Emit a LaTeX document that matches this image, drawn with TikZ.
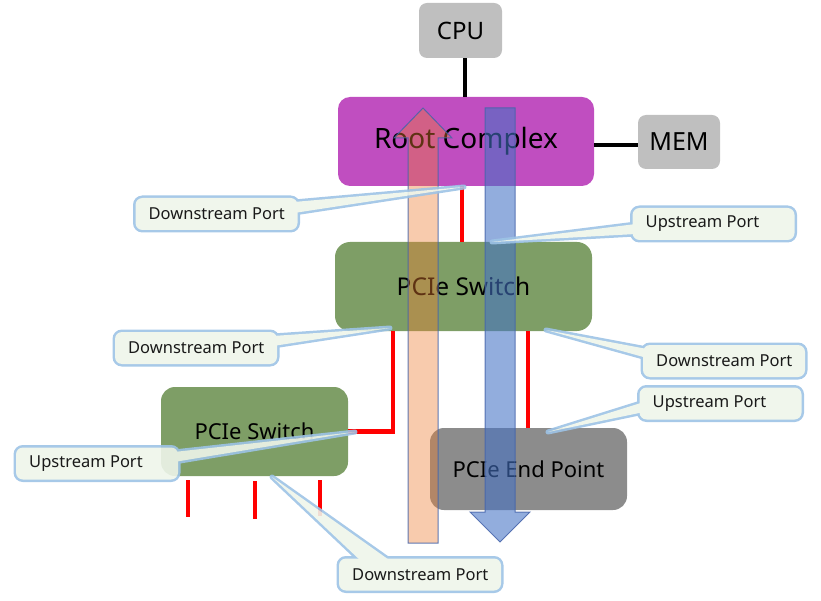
\documentclass[tikz,border=0pt]{standalone}
\usepackage{fontspec}
\setmainfont{Noto Sans}
\usetikzlibrary{calc}
\definecolor{boxgray}{RGB}{191,191,191}
\definecolor{rcmag}{RGB}{192,78,192}
\definecolor{swgreen}{RGB}{126,158,102}
\definecolor{epgray}{RGB}{140,140,140}
\definecolor{cofill}{RGB}{238,245,234}
\definecolor{coborder}{RGB}{157,195,230}
\definecolor{upfill}{RGB}{237,125,49}
\definecolor{downfill}{RGB}{68,114,196}
\definecolor{arrowline}{RGB}{68,100,170}
\definecolor{linered}{RGB}{255,0,0}

\newcommand\mkcallout[6]{%
 \coordinate (#1-c) at (#2);
 \coordinate (#1-t) at (#4);
 \begin{scope}[transparency group, opacity=0.9]
  \draw[coborder, line width=5pt, line join=round] (#5) -- (#1-t) -- (#6) -- cycle;
  \draw[coborder, line width=5pt, rounded corners=7pt] ($(#1-c)+(-81,-16)$) rectangle ($(#1-c)+(81,16)$);
  \fill[cofill] (#5) -- (#1-t) -- (#6) -- cycle;
  \fill[cofill, rounded corners=7pt] ($(#1-c)+(-81,-16)$) rectangle ($(#1-c)+(81,16)$);
 \end{scope}
 \node[cotext, anchor=west] (#1) at ($(#1-c)+(-68,0)$) {#3};
}

\begin{document}
\begin{tikzpicture}[x=1pt,y=-1pt,
  blk/.style={inner sep=0pt, align=center, text=black},
  cotext/.style={inner sep=0pt, font=\fontsize{16.5}{18}\selectfont, text=black!90},
  redline/.style={linered, line width=4.5pt},
  blackline/.style={black, line width=4pt},
  bigarrow/.style={draw=arrowline, line width=1pt, draw opacity=0.85}
]
\useasboundingbox (0,0) rectangle (821,601);

% boxes
\node[blk, fill=boxgray, rounded corners=8pt, minimum width=83pt, minimum height=55pt,
      font=\fontsize{24}{28}\selectfont] (cpu) at (460.5,30.5) {CPU};
\node[blk, fill=boxgray, rounded corners=8pt, minimum width=82pt, minimum height=54pt,
      font=\fontsize{25}{28}\selectfont] (mem) at (679,142) {MEM};
\node[blk, fill=rcmag, rounded corners=12pt, minimum width=256pt, minimum height=89pt,
      font=\fontsize{28}{32}\selectfont] (rc) at (466,141.5) {Root Complex};
\node[blk, fill=swgreen, rounded corners=15pt, minimum width=257pt, minimum height=89pt,
      font=\fontsize{24.5}{28}\selectfont] (sw1) at (463.5,286.5) {PCIe Switch};
\node[blk, fill=swgreen, rounded corners=14pt, minimum width=187pt, minimum height=89pt,
      font=\fontsize{22}{26}\selectfont] (sw2) at (254.5,431.5) {PCIe Switch};
\node[blk, fill=epgray, rounded corners=14pt, minimum width=197pt, minimum height=82pt,
      font=\fontsize{22}{26}\selectfont] (ep) at (528.5,469) {PCIe End Point};

% connectors
\draw[blackline] (465,0 |- cpu.south) -- (465,0 |- rc.north);
\draw[blackline] (rc.east |- 0,145) -- (mem.west |- 0,145);
\draw[redline] (462,0 |- rc.south) -- (462,0 |- sw1.north);
\draw[redline] (393,0 |- sw1.south) |- (sw2.east);
\draw[redline] (528,0 |- sw1.south) -- (528,0 |- ep.north);
\coordinate (s1) at (188,517);
\coordinate (s2) at (255,519);
\coordinate (s3) at (320,516);
\draw[redline] (188,480) -- (s1);
\draw[redline] (255,481) -- (s2);
\draw[redline] (320,480) -- (s3);

% big arrows
\draw[bigarrow, fill=upfill, fill opacity=0.4]
  (408,543) -- (438,543) -- (438,138) -- (452,138) -- (423,108) -- (394,138) -- (408,138) -- cycle;
\draw[bigarrow, fill=downfill, fill opacity=0.58]
  (485,108) -- (515,108) -- (515,512) -- (530,512) -- (500,542) -- (470,512) -- (485,512) -- cycle;

% callouts
\mkcallout{c1}{216.5,214}{Downstream Port}{464,187}{294,202}{294,213}
\mkcallout{c2}{713.5,224}{Upstream Port}{492,242}{636,224}{636,234}
\mkcallout{c3}{196,348}{Downstream Port}{390,328}{273,336}{273,346}
\mkcallout{c4}{724,361}{Downstream Port}{546,330}{647,349}{647,358}
\mkcallout{c5}{720.5,403.5}{Upstream Port}{548,432}{644,402}{644,412}
\mkcallout{c6}{97,463.5}{Upstream Port}{355,432}{174,452}{174,462}
\mkcallout{c7}{420,574.5}{Downstream Port}{272,477}{362,562}{392,562}
\end{tikzpicture}
\end{document}
